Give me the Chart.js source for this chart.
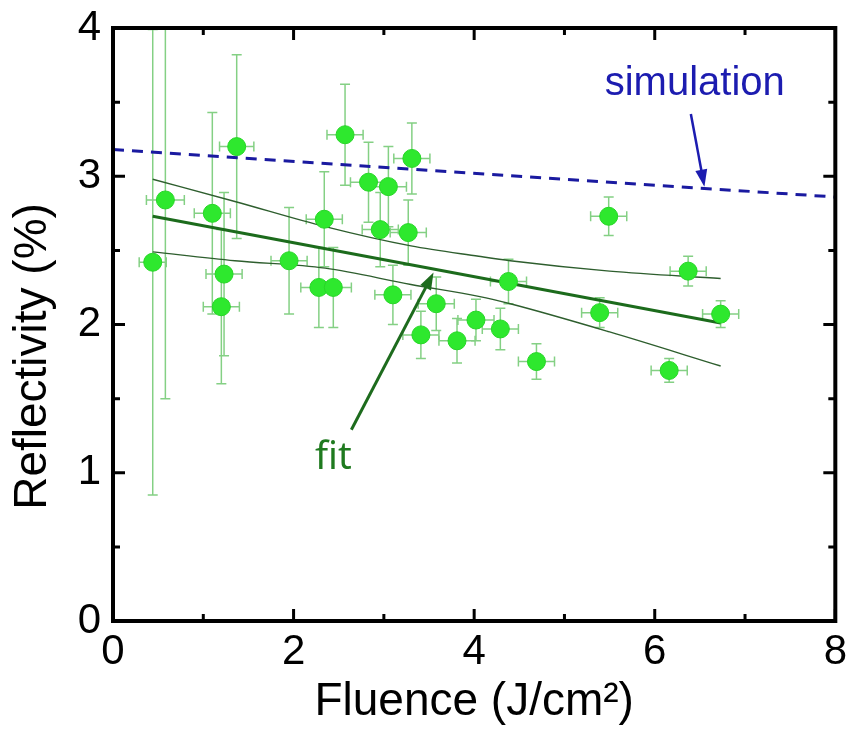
<!DOCTYPE html>
<html>
<head>
<meta charset="utf-8">
<script src="https://cdn.jsdelivr.net/npm/chart.js@4.4.0/dist/chart.umd.min.js"></script>
<style>
    html, body { margin: 0; padding: 0; background: #fff; }
    #wrap { width: 853px; height: 733px; }
</style>
</head>
<body>
<div id="wrap"><canvas id="myChart" width="853" height="733"></canvas></div>
<script>
const xFluence = [0.44, 0.58, 1.10, 1.37, 1.23, 1.20, 1.95, 2.34, 2.28, 2.44,
                  2.57, 2.83, 3.05, 3.31, 2.96, 3.27, 3.10, 3.58, 3.41, 3.81,
                  4.02, 4.29, 4.38, 4.69, 5.39, 5.49, 6.16, 6.37, 6.73];
const yRefl    = [2.42, 2.84, 2.75, 3.20, 2.34, 2.12, 2.43, 2.71, 2.25, 2.25,
                  3.28, 2.96, 2.93, 3.12, 2.64, 2.62, 2.20, 2.14, 1.93, 1.89,
                  2.03, 1.97, 2.29, 1.75, 2.08, 2.73, 1.69, 2.36, 2.07];
const xErr     = [0.15, 0.21, 0.20, 0.19, 0.20, 0.20, 0.20, 0.20, 0.20, 0.20,
                  0.20, 0.20, 0.20, 0.20, 0.20, 0.20, 0.20, 0.20, 0.20, 0.20,
                  0.20, 0.20, 0.20, 0.20, 0.20, 0.20, 0.20, 0.20, 0.20];
const yErr     = [1.57, 1.34, 0.68, 0.62, 0.55, 0.52, 0.36, 0.32, 0.27, 0.27,
                  0.34, 0.27, 0.27, 0.24, 0.25, 0.22, 0.20, 0.18, 0.16, 0.15,
                  0.14, 0.14, 0.15, 0.12, 0.10, 0.13, 0.08, 0.10, 0.09];

// linear fit and its confidence band
const fitX = [0.44, 6.73];
const fitY = [2.73, 2.01];
const bandX     = [0.44, 1.35, 2.35, 3.30, 4.05, 4.40, 5.50, 6.73];
const bandUpper = [2.98, 2.83, 2.66, 2.53, 2.46, 2.43, 2.36, 2.31];
const bandLower = [2.49, 2.43, 2.38, 2.27, 2.19, 2.14, 1.95, 1.72];

// simulation line
const simX = [0, 8];
const simY = [3.18, 2.86];

// axis ticks
const xTicks = [0, 2, 4, 6, 8];
const xMinor = [1, 3, 5, 7];
const yTicks = [0, 1, 2, 3, 4];
const yMinor = [0.5, 1.5, 2.5, 3.5];

// labels with arrows (data coordinates)
const labelSim = { text: 'simulation', x: 7.44, y: 3.55, from: [6.40, 3.42], to: [6.55, 2.93] };
const labelFit = { text: 'fit', x: 2.44, y: 1.10, from: [2.64, 1.29], to: [3.55, 2.35] };

const toXY = (xs, ys) => xs.map((x, i) => ({ x: x, y: ys[i] }));

function drawArrow(ctx, x1, y1, x2, y2, color, width) {
    const ang = Math.atan2(y2 - y1, x2 - x1);
    const head = 17, half = 6;
    ctx.save();
    ctx.strokeStyle = color;
    ctx.fillStyle = color;
    ctx.lineWidth = width;
    ctx.beginPath();
    ctx.moveTo(x1, y1);
    ctx.lineTo(x2 - Math.cos(ang) * head * 0.8, y2 - Math.sin(ang) * head * 0.8);
    ctx.stroke();
    ctx.beginPath();
    ctx.moveTo(x2, y2);
    ctx.lineTo(x2 - Math.cos(ang) * head - Math.sin(ang) * half, y2 - Math.sin(ang) * head + Math.cos(ang) * half);
    ctx.lineTo(x2 - Math.cos(ang) * head + Math.sin(ang) * half, y2 - Math.sin(ang) * head - Math.cos(ang) * half);
    ctx.closePath();
    ctx.fill();
    ctx.restore();
}

// error bars under the points
const errorBars = {
    id: 'errorBars',
    beforeDatasetsDraw(chart) {
        const {ctx, chartArea, scales: {x, y}} = chart;
        ctx.save();
        ctx.beginPath();
        ctx.rect(chartArea.left, chartArea.top, chartArea.right - chartArea.left, chartArea.bottom - chartArea.top);
        ctx.clip();
        ctx.strokeStyle = '#84d084';
        ctx.lineWidth = 1.5;
        const cap = 5;
        xFluence.forEach((xv, i) => {
            const px = x.getPixelForValue(xv);
            const py = y.getPixelForValue(yRefl[i]);
            const yt = y.getPixelForValue(yRefl[i] + yErr[i]);
            const yb = y.getPixelForValue(yRefl[i] - yErr[i]);
            const xl = x.getPixelForValue(xv - xErr[i]);
            const xr = x.getPixelForValue(xv + xErr[i]);
            ctx.beginPath();
            ctx.moveTo(px, yt); ctx.lineTo(px, yb);
            ctx.moveTo(px - cap, yt); ctx.lineTo(px + cap, yt);
            ctx.moveTo(px - cap, yb); ctx.lineTo(px + cap, yb);
            ctx.moveTo(xl, py); ctx.lineTo(xr, py);
            ctx.moveTo(xl, py - cap); ctx.lineTo(xl, py + cap);
            ctx.moveTo(xr, py - cap); ctx.lineTo(xr, py + cap);
            ctx.stroke();
        });
        ctx.restore();
    }
};

// frame, inward ticks, text labels and arrows
const frame = {
    id: 'frame',
    afterDraw(chart) {
        const {ctx, chartArea: a, scales: {x, y}} = chart;
        ctx.save();
        ctx.strokeStyle = '#000';
        ctx.lineWidth = 4;
        ctx.strokeRect(a.left, a.top, a.right - a.left, a.bottom - a.top);
        ctx.lineWidth = 3;
        ctx.beginPath();
        const tick = (v, len, horiz) => {
            if (horiz) {
                const p = x.getPixelForValue(v);
                ctx.moveTo(p, a.bottom); ctx.lineTo(p, a.bottom - len);
                ctx.moveTo(p, a.top); ctx.lineTo(p, a.top + len);
            } else {
                const p = y.getPixelForValue(v);
                ctx.moveTo(a.left, p); ctx.lineTo(a.left + len, p);
                ctx.moveTo(a.right, p); ctx.lineTo(a.right - len, p);
            }
        };
        xTicks.forEach(v => tick(v, 12, true));
        xMinor.forEach(v => tick(v, 7, true));
        yTicks.forEach(v => tick(v, 12, false));
        yMinor.forEach(v => tick(v, 7, false));
        ctx.stroke();

        // simulation label
        ctx.font = '40px "Liberation Sans", Arial, sans-serif';
        ctx.fillStyle = '#1c1cb0';
        ctx.textAlign = 'right';
        ctx.textBaseline = 'alphabetic';
        ctx.fillText(labelSim.text, x.getPixelForValue(labelSim.x), y.getPixelForValue(labelSim.y));
        drawArrow(ctx, x.getPixelForValue(labelSim.from[0]), y.getPixelForValue(labelSim.from[1]),
                  x.getPixelForValue(labelSim.to[0]), y.getPixelForValue(labelSim.to[1]), '#1c1cb0', 2.5);

        // fit label
        ctx.font = '38px "Noto Sans", sans-serif';
        ctx.fillStyle = '#1f7a1f';
        ctx.textAlign = 'center';
        ctx.textBaseline = 'middle';
        ctx.fillText(labelFit.text, x.getPixelForValue(labelFit.x), y.getPixelForValue(labelFit.y));
        drawArrow(ctx, x.getPixelForValue(labelFit.from[0]), y.getPixelForValue(labelFit.from[1]),
                  x.getPixelForValue(labelFit.to[0]), y.getPixelForValue(labelFit.to[1]), '#1d6b1d', 3);
        ctx.restore();
    }
};

const axisFont = { family: '"Liberation Sans", Arial, sans-serif', size: 42 };
const titleFont = { family: '"Liberation Sans", Arial, sans-serif', size: 46 };

const ctx = document.getElementById('myChart');
const myChart = new Chart(ctx, {
    type: 'scatter',
    data: {
        datasets: [
            {
                label: 'data',
                data: toXY(xFluence, yRefl),
                pointRadius: 9,
                pointHoverRadius: 9,
                backgroundColor: '#2ee82e',
                borderColor: '#27d627',
                borderWidth: 1
            },
            {
                label: 'fit',
                type: 'line',
                data: toXY(fitX, fitY),
                borderColor: '#1c6b1c',
                borderWidth: 3,
                pointRadius: 0,
                fill: false
            },
            {
                label: 'upper',
                type: 'line',
                data: toXY(bandX, bandUpper),
                borderColor: '#2e5e2e',
                borderWidth: 1.4,
                pointRadius: 0,
                cubicInterpolationMode: 'monotone',
                fill: false
            },
            {
                label: 'lower',
                type: 'line',
                data: toXY(bandX, bandLower),
                borderColor: '#2e5e2e',
                borderWidth: 1.4,
                pointRadius: 0,
                cubicInterpolationMode: 'monotone',
                fill: false
            },
            {
                label: 'simulation',
                type: 'line',
                data: toXY(simX, simY),
                borderColor: '#1a1aa0',
                borderWidth: 3,
                borderDash: [11, 8],
                pointRadius: 0,
                fill: false
            }
        ]
    },
    options: {
        responsive: false,
        animation: false,
        layout: { padding: { top: 28, right: 16, left: 0, bottom: 0 } },
        scales: {
            x: {
                type: 'linear',
                min: 0, max: 8,
                afterFit: s => { s.height = 112; },
                grid: { display: false, drawTicks: false },
                border: { display: false },
                afterBuildTicks: s => { s.ticks = xTicks.map(v => ({ value: v })); },
                ticks: { color: '#000', font: axisFont, padding: 6, maxRotation: 0 },
                title: {
                    display: true,
                    text: 'Fluence (J/cm²)',
                    color: '#000',
                    font: titleFont,
                    padding: { top: 0, bottom: 3 }
                }
            },
            y: {
                type: 'linear',
                min: 0, max: 4,
                afterFit: s => { s.width = 113; s.paddingTop = 0; s.paddingBottom = 0; },
                grid: { display: false, drawTicks: false },
                border: { display: false },
                afterBuildTicks: s => { s.ticks = yTicks.map(v => ({ value: v })); },
                ticks: { color: '#000', font: axisFont, padding: 12 },
                title: {
                    display: true,
                    // trailing spaces push the title down, as in the original
                    text: 'Reflectivity (%)\u00a0\u00a0\u00a0\u00a0\u00a0',
                    color: '#000',
                    font: titleFont,
                    padding: { top: 6, bottom: 0 }
                }
            }
        },
        plugins: {
            legend: { display: false },
            tooltip: { enabled: false }
        }
    },
    plugins: [errorBars, frame]
});
</script>
</body>
</html>
